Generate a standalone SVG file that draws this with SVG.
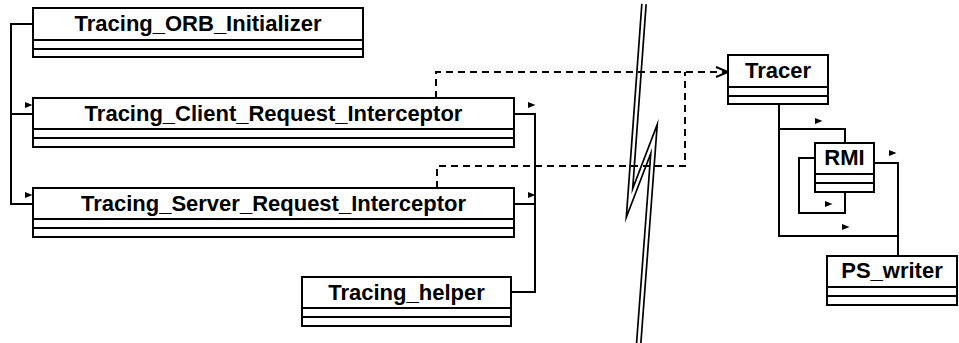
<svg xmlns="http://www.w3.org/2000/svg" xmlns:xlink="http://www.w3.org/1999/xlink" width="959" height="343" viewBox="0 0 959 343">
  <style>
    .box { fill: #ffffff; stroke: #000000; stroke-width: 2; }
    .sep { stroke: #000000; stroke-width: 2; }
    .name { font-family: "Liberation Sans", Arial, sans-serif; font-size: 22px; font-weight: bold; fill: #000000; text-anchor: middle; }
    .assoc { fill: none; stroke: #000000; stroke-width: 2; }
    .dep { fill: none; stroke: #000000; stroke-width: 2; stroke-dasharray: 7 5; }
    .nav { fill: #000000; }
  </style>
  <defs>
    <!-- small navigability triangle placed beside association lines -->
    <path id="nav" d="M0,0 L7.5,3 L0,6 Z"/>
    <marker id="open" markerUnits="userSpaceOnUse" markerWidth="16" markerHeight="14" refX="13" refY="6" orient="auto" viewBox="0 0 16 12">
      <path d="M1,1 L13,6 L1,11" fill="none" stroke="#000000" stroke-width="2"/>
    </marker>
  </defs>

  <!-- break symbol between the two halves -->
  <g id="break">
    <path d="M644,4 L629.5,203 L654,139 L638.5,346" fill="none" stroke="#000000" stroke-width="6" stroke-linejoin="miter" stroke-miterlimit="30"/>
    <path d="M644,4 L629.5,203 L654,139 L638.5,346" fill="none" stroke="#ffffff" stroke-width="2.6" stroke-linejoin="miter" stroke-miterlimit="30"/>
  </g>

  <g id="connectors">
    <!-- Tracing_ORB_Initializer to both interceptors -->
    <polyline class="assoc" points="33,24 11,24 11,204 33,204"/>
    <line class="assoc" x1="11" y1="114" x2="33" y2="114"/>
    <use href="#nav" class="nav" x="25" y="102"/>
    <use href="#nav" class="nav" x="25" y="192"/>

    <!-- interceptors to Tracing_helper -->
    <polyline class="assoc" points="514,114 535,114 535,292 511,292"/>
    <line class="assoc" x1="514" y1="204" x2="535" y2="204"/>
    <use href="#nav" class="nav" x="528" y="102"/>
    <use href="#nav" class="nav" x="528" y="192"/>

    <!-- dependencies on Tracer -->
    <polyline class="dep" points="436,98 436,72 728,72" marker-end="url(#open)"/>
    <polyline class="dep" points="437,188 437,166 685,166 685,72"/>

    <!-- Tracer to RMI and PS_writer -->
    <polyline class="assoc" points="779,104 779,236 898,236"/>
    <polyline class="assoc" points="779,129 845,129 845,143"/>
    <use href="#nav" class="nav" x="815" y="118"/>
    <polyline class="assoc" points="874,163 898,163 898,256"/>
    <use href="#nav" class="nav" x="889" y="150"/>
    <use href="#nav" class="nav" x="842" y="224"/>
    <!-- RMI self association -->
    <polyline class="assoc" points="815,158 799,158 799,213 845,213 845,192"/>
    <use href="#nav" class="nav" x="825" y="201"/>
  </g>

  <g id="Tracing_ORB_Initializer">
    <rect class="box" x="33" y="8" width="330" height="49"/>
    <line class="sep" x1="33" y1="40" x2="363" y2="40"/>
    <line class="sep" x1="33" y1="49" x2="363" y2="49"/>
    <text class="name" x="198" y="31">Tracing_ORB_Initializer</text>
  </g>

  <g id="Tracing_Client_Request_Interceptor">
    <rect class="box" x="33" y="98" width="481" height="49"/>
    <line class="sep" x1="33" y1="129" x2="514" y2="129"/>
    <line class="sep" x1="33" y1="138" x2="514" y2="138"/>
    <text class="name" x="273.5" y="121">Tracing_Client_Request_Interceptor</text>
  </g>

  <g id="Tracing_Server_Request_Interceptor">
    <rect class="box" x="33" y="188" width="481" height="49"/>
    <line class="sep" x1="33" y1="219" x2="514" y2="219"/>
    <line class="sep" x1="33" y1="228" x2="514" y2="228"/>
    <text class="name" x="273.5" y="211">Tracing_Server_Request_Interceptor</text>
  </g>

  <g id="Tracing_helper">
    <rect class="box" x="302" y="277" width="209" height="49"/>
    <line class="sep" x1="302" y1="308" x2="511" y2="308"/>
    <line class="sep" x1="302" y1="317" x2="511" y2="317"/>
    <text class="name" x="406.5" y="300">Tracing_helper</text>
  </g>

  <g id="Tracer">
    <rect class="box" x="728" y="55" width="100" height="49"/>
    <line class="sep" x1="728" y1="87" x2="828" y2="87"/>
    <line class="sep" x1="728" y1="96" x2="828" y2="96"/>
    <text class="name" x="778" y="78">Tracer</text>
  </g>

  <g id="RMI">
    <rect class="box" x="815" y="143" width="59" height="49"/>
    <line class="sep" x1="815" y1="174" x2="874" y2="174"/>
    <line class="sep" x1="815" y1="183" x2="874" y2="183"/>
    <text class="name" x="844.5" y="165">RMI</text>
  </g>

  <g id="PS_writer">
    <rect class="box" x="827" y="256" width="130" height="49"/>
    <line class="sep" x1="827" y1="287" x2="957" y2="287"/>
    <line class="sep" x1="827" y1="296" x2="957" y2="296"/>
    <text class="name" x="892" y="278">PS_writer</text>
  </g>
</svg>
